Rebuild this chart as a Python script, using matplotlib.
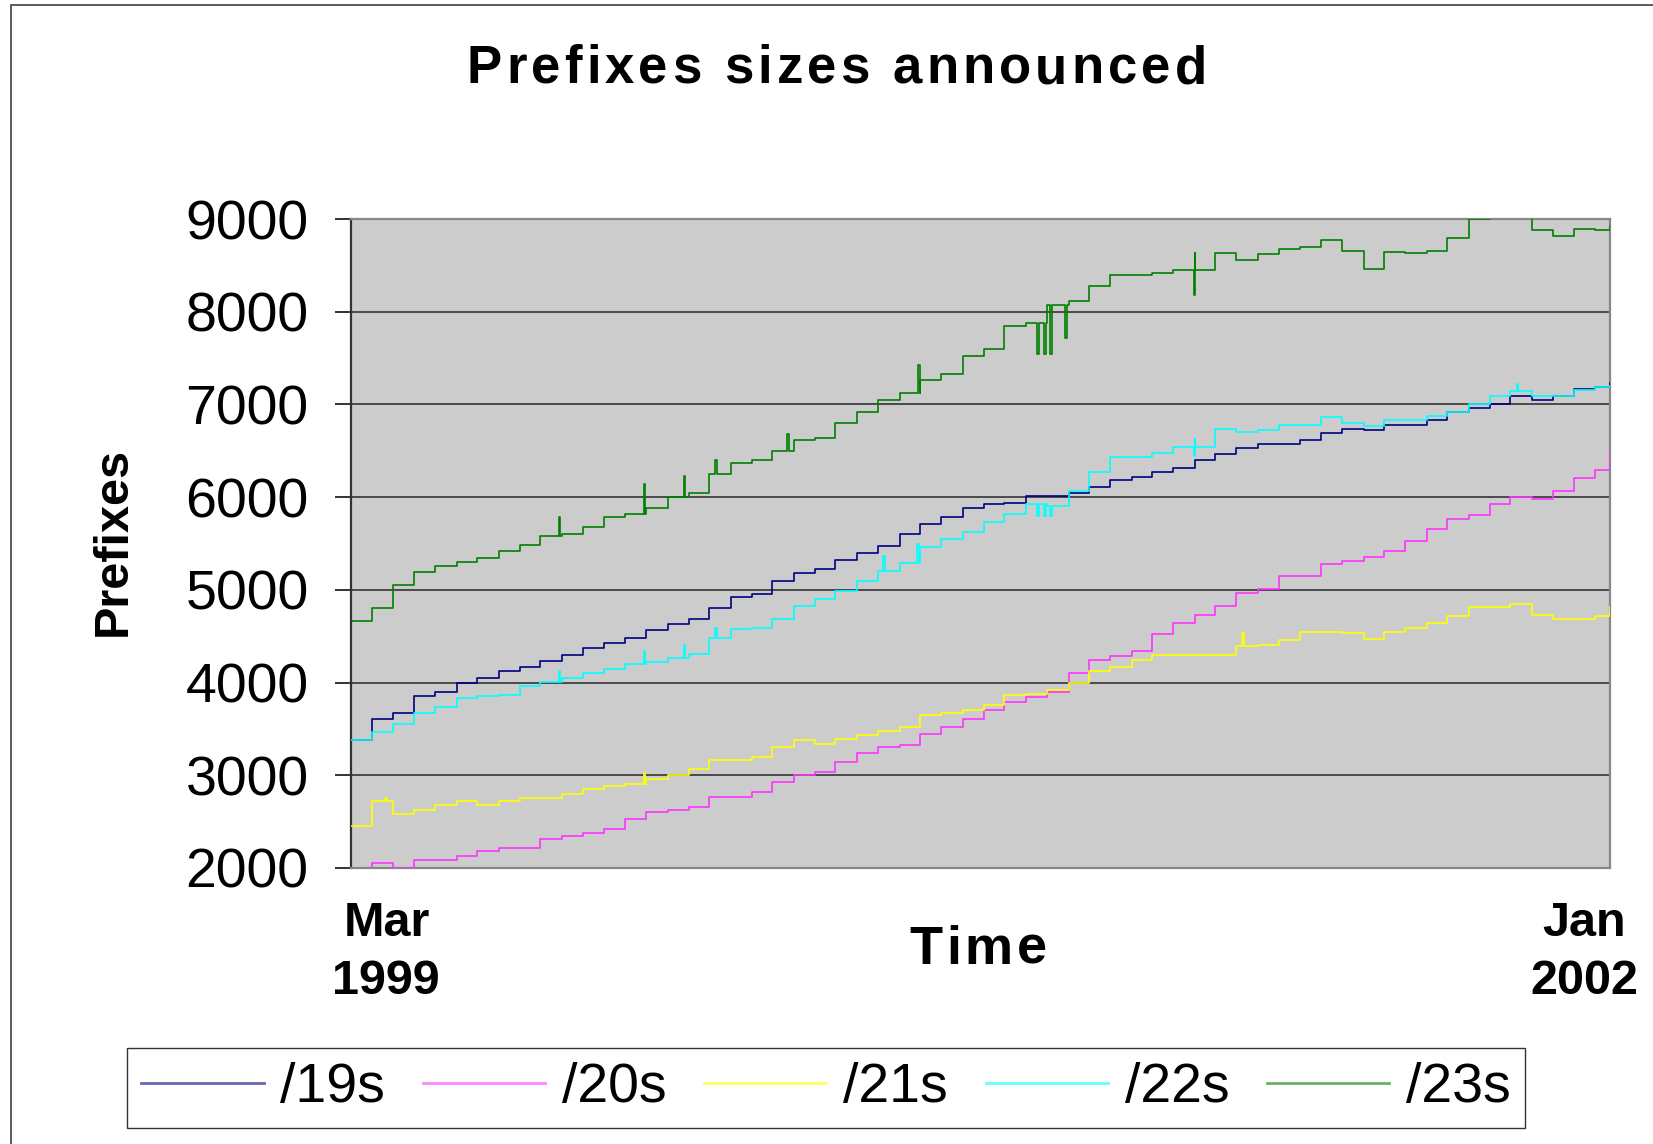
import numpy as np
import matplotlib
matplotlib.use("Agg")
import matplotlib.pyplot as plt
from matplotlib.patches import Rectangle
from matplotlib.lines import Line2D
from matplotlib.font_manager import FontProperties

plt.rcParams['font.family'] = ['Liberation Sans', 'DejaVu Sans']

# ---------------- data (days since 1 Mar 1999) ----------------
sample_days = [0, 17, 35, 52, 69, 87, 104, 122, 139, 156,
               174, 191, 208, 226, 243, 261, 278, 295, 313, 330,
               347, 365, 382, 399, 417, 434, 452, 469, 486, 504,
               521, 538, 556, 573, 591, 608, 625, 643, 660, 677,
               695, 712, 729, 747, 764, 782, 799, 816, 834, 851,
               868, 886, 903, 921, 938, 955, 973, 990, 1007, 1025, 1037]

s19 = [3380, 3610, 3670, 3850, 3900, 3990, 4050, 4120, 4170, 4230,
       4300, 4370, 4430, 4480, 4570, 4630, 4690, 4800, 4920, 4960,
       5100, 5180, 5220, 5320, 5400, 5470, 5600, 5710, 5790, 5880,
       5930, 5940, 6010, 6010, 6050, 6110, 6180, 6220, 6270, 6310,
       6400, 6460, 6530, 6570, 6570, 6620, 6690, 6740, 6720, 6780,
       6780, 6830, 6920, 6960, 7000, 7090, 7050, 7090, 7170, 7190, 7230]

s20 = [1950, 2050, 2000, 2090, 2090, 2130, 2180, 2220, 2220, 2310,
       2350, 2380, 2420, 2530, 2600, 2630, 2660, 2770, 2770, 2820,
       2930, 3000, 3040, 3140, 3240, 3300, 3330, 3450, 3520, 3610,
       3700, 3790, 3840, 3900, 4100, 4240, 4290, 4340, 4520, 4640,
       4730, 4830, 4970, 5010, 5150, 5150, 5280, 5310, 5350, 5420,
       5530, 5660, 5760, 5810, 5930, 6000, 5980, 6070, 6210, 6290, 6490]

s21 = [2450, 2720, 2580, 2630, 2680, 2720, 2680, 2720, 2760, 2760,
       2800, 2850, 2880, 2910, 2960, 3000, 3070, 3160, 3160, 3200,
       3300, 3380, 3340, 3390, 3430, 3480, 3520, 3650, 3670, 3700,
       3760, 3870, 3880, 3920, 3990, 4120, 4170, 4240, 4300, 4300,
       4300, 4300, 4390, 4410, 4460, 4550, 4550, 4530, 4470, 4550,
       4590, 4640, 4720, 4820, 4820, 4850, 4730, 4690, 4690, 4720, 4820]

s22 = [3380, 3470, 3550, 3670, 3740, 3830, 3850, 3870, 3960, 4010,
       4050, 4100, 4150, 4200, 4220, 4260, 4310, 4480, 4580, 4590,
       4690, 4830, 4900, 4990, 5100, 5200, 5290, 5460, 5550, 5620,
       5730, 5820, 5930, 5900, 6070, 6270, 6430, 6430, 6480, 6540,
       6630, 6740, 6700, 6720, 6780, 6780, 6860, 6800, 6770, 6830,
       6830, 6870, 6920, 7000, 7090, 7140, 7090, 7090, 7160, 7190, 7200]

s23 = [4660, 4800, 5050, 5190, 5260, 5300, 5340, 5420, 5480, 5580,
       5600, 5680, 5790, 5820, 5880, 6000, 6050, 6250, 6370, 6400,
       6500, 6620, 6640, 6800, 6920, 7050, 7120, 7260, 7330, 7520,
       7600, 7850, 7880, 8070, 8120, 8280, 8400, 8400, 8420, 8450,
       8630, 8630, 8560, 8620, 8680, 8700, 8770, 8650, 8460, 8640,
       8630, 8650, 8800, 9000, 9100, 9100, 8880, 8820, 8890, 8880, 8920]

# short-lived spikes: (day, value)
spikes19 = []
spikes20 = []
spikes21 = [(28, 2760), (241, 3020), (734, 4530)]
spikes22 = [(171, 4120), (241, 4340), (274, 4410), (300, 4590), (438, 5360),
            (466, 5500), (565, 5800), (571, 5800), (576, 5800), (694, 6440), (960, 7220)]
spikes23 = [(171, 5790), (241, 6140), (274, 6230), (300, 6400), (359, 6680),
            (467, 7430), (565, 7540), (571, 7540), (576, 7540), (588, 7720), (694, 8180)]

labels = ['/19s', '/20s', '/21s', '/22s', '/23s']
colors = ['#000080', '#ff33ff', '#ffff00', '#00ffff', '#008000']
y_ticks = [2000, 3000, 4000, 5000, 6000, 7000, 8000, 9000]


def with_spikes(days, vals, spikes, width=1.5):
    pts = list(zip(days, vals))
    for d, v in spikes:
        base = [vv for dd, vv in zip(days, vals) if dd <= d][-1]
        pts.append((d, v))
        pts.append((d + width, base))
    pts.sort(key=lambda p: p[0])
    return [p[0] for p in pts], [p[1] for p in pts]


# ---------------- figure ----------------
W, H = 1653, 1144
fig = plt.figure(figsize=(W / 100, H / 100), dpi=100)
fig.patch.set_facecolor('white')
renderer = fig.canvas.get_renderer()

L, R, T, B = 351, 1610, 219, 868
ax = fig.add_axes([L / W, 1 - B / H, (R - L) / W, (B - T) / H])
ax.set_facecolor('#cccccc')

series = [(s19, spikes19), (s20, spikes20), (s21, spikes21), (s22, spikes22), (s23, spikes23)]
for (vals, sp), c, lab in zip(series, colors, labels):
    xd, yd = with_spikes(sample_days, vals, sp)
    ax.plot(xd, yd, drawstyle='steps-post', color=c, lw=1.2, label=lab, zorder=3)

ax.set_xlim(0, 1037)
ax.set_ylim(2000, 9000)
ax.set_yticks(y_ticks)
ax.set_yticklabels([str(v) for v in y_ticks])
ax.set_xticks([])
ax.yaxis.grid(True, color='#4a4a4a', lw=1.4)
ax.set_axisbelow(True)
ax.tick_params(axis='y', length=11.5, width=1.4, color='#333333', pad=19,
               labelsize=40, labelcolor='black')
for side in ['top', 'right', 'bottom']:
    ax.spines[side].set_color('#888888')
    ax.spines[side].set_linewidth(1.6)
ax.spines['left'].set_color('#333333')
ax.spines['left'].set_linewidth(1.6)

# outer chart border
fig.patches.append(Rectangle((11 / W, -0.05), 1.1, 1 - 5 / H + 0.05, transform=fig.transFigure,
                             fill=False, ec='#404040', lw=1.2))


def adv(ch, fp):
    w1, _, _ = renderer.get_text_width_height_descent('|' + ch + '|', fp, ismath=False)
    w0, _, _ = renderer.get_text_width_height_descent('||', fp, ismath=False)
    return w1 - w0


def spaced_text(s, cx, base_y, width_px, fp):
    a = [adv(c, fp) for c in s]
    gap = (width_px - sum(a)) / (len(s) - 1)
    x = cx - width_px / 2
    for c, ai in zip(s, a):
        if c != ' ':
            fig.text((x + ai / 2) / W, 1 - base_y / H, c, fontproperties=fp,
                     ha='center', va='baseline')
        x += ai + gap


title_fp = FontProperties(family='Liberation Sans', weight='bold', size=38)
spaced_text('Prefixes sizes announced', 837, 83, 740, title_fp)

time_fp = FontProperties(family='Liberation Sans', weight='bold', size=39)
spaced_text('Time', 978, 964, 138, time_fp)

lab_fp = FontProperties(family='Liberation Sans', weight='bold', size=35)
fig.text(387 / W, 1 - 936 / H, 'Mar', fontproperties=lab_fp, ha='center', va='baseline')
fig.text(386 / W, 1 - 994 / H, '1999', fontproperties=lab_fp, ha='center', va='baseline')
fig.text(1584 / W, 1 - 936 / H, 'Jan', fontproperties=lab_fp, ha='center', va='baseline')
fig.text(1584 / W, 1 - 994 / H, '2002', fontproperties=lab_fp, ha='center', va='baseline')

fig.text(113 / W, 1 - 541 / H, 'Prefixes', fontproperties=FontProperties(
    family='Liberation Sans', weight='bold', size=35), rotation=90, ha='center', va='center')

handles = [Line2D([], [], color=c, lw=2.0, alpha=0.6) for c in colors]
leg = fig.legend(handles, labels, loc='center', bbox_to_anchor=(826 / W, 1 - 1088 / H),
                 ncol=5, fontsize=40, frameon=True, fancybox=False, edgecolor='black',
                 handlelength=2.2, handletextpad=0.3, columnspacing=0.68, borderpad=0.26,
                 borderaxespad=0)
leg.get_frame().set_linewidth(1.0)

fig.savefig('out.png', dpi=100)
